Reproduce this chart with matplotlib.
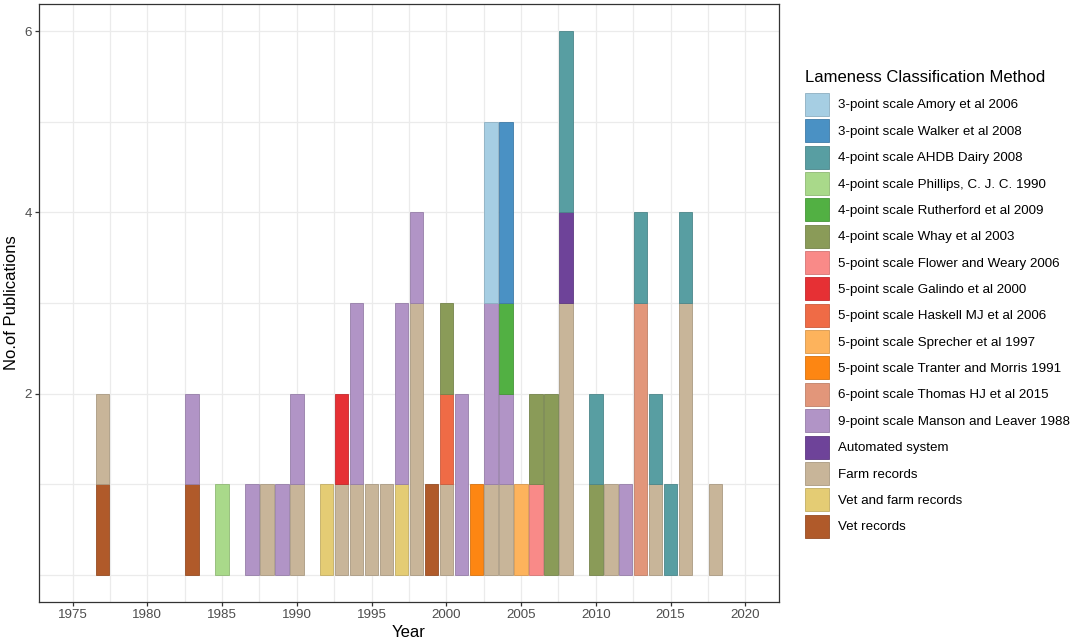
import numpy as np
import pandas as pd
import matplotlib
matplotlib.use("Agg")
import matplotlib.pyplot as plt
from matplotlib.patches import Patch
from matplotlib.colors import to_rgb

plt.rcParams['font.family'] = ['Liberation Sans', 'DejaVu Sans']

# legend / stacking order (first level is drawn on top)
methods = [
    "3-point scale Amory et al 2006",
    "3-point scale Walker et al 2008",
    "4-point scale AHDB Dairy 2008",
    "4-point scale Phillips, C. J. C. 1990",
    "4-point scale Rutherford et al 2009",
    "4-point scale Whay et al 2003",
    "5-point scale Flower and Weary 2006",
    "5-point scale Galindo et al 2000",
    "5-point scale Haskell MJ et al 2006",
    "5-point scale Sprecher et al 1997",
    "5-point scale Tranter and Morris 1991",
    "6-point scale Thomas HJ et al 2015",
    "9-point scale Manson and Leaver 1988",
    "Automated system",
    "Farm records",
    "Vet and farm records",
    "Vet records",
]
method_colors = [
    "#a6cee3", "#4a91c4", "#589ea2", "#a9d98a", "#52b043", "#8a9b58",
    "#f98a88", "#e63034", "#ef6b46", "#fdb35c", "#fd8612", "#e2967a",
    "#b194c6", "#6e4399", "#c8b599", "#e4cc74", "#b05a2a",
]

# publications per year and method
bar_years = [1977, 1977, 1983, 1983, 1985, 1987, 1988, 1989, 1990, 1990,
             1992, 1993, 1993, 1994, 1994, 1995, 1996, 1997, 1997, 1998, 1998,
             1999, 2000, 2000, 2000, 2001, 2002, 2003, 2003, 2003,
             2004, 2004, 2004, 2004, 2005, 2006, 2006, 2007,
             2008, 2008, 2008, 2010, 2010, 2011, 2012, 2013, 2013,
             2014, 2014, 2015, 2016, 2016, 2018]
bar_methods = [
    "Vet records", "Farm records",
    "Vet records", "9-point scale Manson and Leaver 1988",
    "4-point scale Phillips, C. J. C. 1990",
    "9-point scale Manson and Leaver 1988",
    "Farm records",
    "9-point scale Manson and Leaver 1988",
    "Farm records", "9-point scale Manson and Leaver 1988",
    "Vet and farm records",
    "Farm records", "5-point scale Galindo et al 2000",
    "Farm records", "9-point scale Manson and Leaver 1988",
    "Farm records",
    "Farm records",
    "Vet and farm records", "9-point scale Manson and Leaver 1988",
    "Farm records", "9-point scale Manson and Leaver 1988",
    "Vet records",
    "Farm records", "5-point scale Haskell MJ et al 2006", "4-point scale Whay et al 2003",
    "9-point scale Manson and Leaver 1988",
    "5-point scale Tranter and Morris 1991",
    "Farm records", "9-point scale Manson and Leaver 1988", "3-point scale Amory et al 2006",
    "Farm records", "9-point scale Manson and Leaver 1988",
    "4-point scale Rutherford et al 2009", "3-point scale Walker et al 2008",
    "5-point scale Sprecher et al 1997",
    "5-point scale Flower and Weary 2006", "4-point scale Whay et al 2003",
    "4-point scale Whay et al 2003",
    "Farm records", "Automated system", "4-point scale AHDB Dairy 2008",
    "4-point scale Whay et al 2003", "4-point scale AHDB Dairy 2008",
    "Farm records",
    "9-point scale Manson and Leaver 1988",
    "6-point scale Thomas HJ et al 2015", "4-point scale AHDB Dairy 2008",
    "Farm records", "4-point scale AHDB Dairy 2008",
    "4-point scale AHDB Dairy 2008",
    "Farm records", "4-point scale AHDB Dairy 2008",
    "Farm records",
]
bar_counts = [1, 1, 1, 1, 1, 1, 1, 1, 1, 1,
              1, 1, 1, 1, 2, 1, 1, 1, 2, 3, 1,
              1, 1, 1, 1, 2, 1, 1, 2, 2,
              1, 1, 1, 2, 1, 1, 1, 2,
              3, 1, 2, 1, 1, 1, 1, 3, 1,
              1, 1, 1, 3, 1, 1]

df = pd.DataFrame({"year": bar_years, "method": bar_methods, "n": bar_counts})
table = df.pivot_table(index="year", columns="method", values="n", aggfunc="sum", fill_value=0)
table = table.reindex(columns=methods, fill_value=0)


def darker(c, f=0.85):
    return tuple(v * f for v in to_rgb(c))


fig = plt.figure(figsize=(10.73, 6.43), dpi=100)
ax = fig.add_axes([0.0363, 0.0638, 0.6897, 0.93])

bottom = pd.Series(0.0, index=table.index)
for m, c in zip(reversed(methods), reversed(method_colors)):
    vals = table[m]
    keep = vals > 0
    ax.bar(table.index[keep], vals[keep], width=0.9, bottom=bottom[keep], color=c,
           edgecolor=darker(c), linewidth=0.6, zorder=3)
    bottom += vals

ax.set_xlim(1972.75, 2022.25)
ax.set_ylim(-0.3, 6.3)
ax.set_xticks(np.arange(1975, 2021, 5))
ax.set_xticks(np.arange(1977.5, 2020, 5), minor=True)
ax.set_yticks([2, 4, 6])
ax.set_yticks([0, 1, 3, 5], minor=True)
ax.grid(True, which="both", color="#ebebeb", linewidth=0.9, zorder=0)
ax.tick_params(which="minor", length=0)
ax.tick_params(which="major", length=3, width=0.9, color="#333333",
               labelsize=9.6, labelcolor="#4d4d4d", pad=2)
for s in ax.spines.values():
    s.set_color("#333333")
    s.set_linewidth(0.9)

ax.set_xlabel("Year", fontsize=12, labelpad=3)
ax.set_ylabel("No.of Publications", fontsize=12, labelpad=4)

# legend title placed separately to control the gap above the keys
fig.text(0.7502, 1 - 77 / 643, "Lameness Classification Method", fontsize=12,
         ha="left", va="center")
handles = [Patch(facecolor=c, edgecolor=darker(c), linewidth=0.6) for c in method_colors]
leg = fig.legend(handles, methods, loc="upper left", bbox_to_anchor=(0.745, 1 - 87.5 / 643),
                 frameon=False, fontsize=9.6, handlelength=1.8, handleheight=2.28,
                 labelspacing=0.25, handletextpad=0.68, borderaxespad=0)

fig.savefig("out.png", dpi=100)
